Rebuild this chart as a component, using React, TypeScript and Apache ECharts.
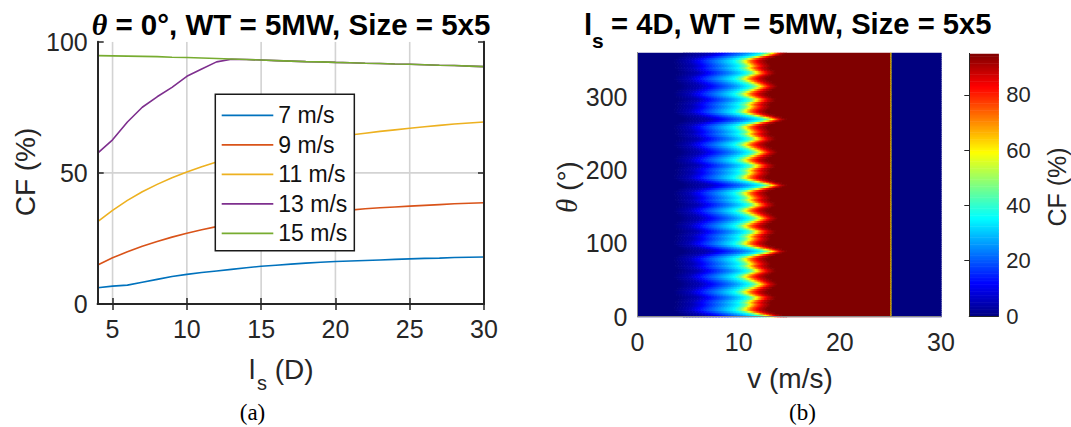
import React, { useEffect, useRef } from "react";
import * as echarts from "echarts";

// ---------- Panel (a): CF vs turbine spacing ----------
const spacingD = [4, 5, 6, 7, 8, 9, 10, 11, 12, 13, 14, 15, 16, 17, 18, 19, 20, 21, 22, 23, 24, 25, 26, 27, 28, 29, 30];
const cf7 = [6.2, 6.8, 7.2, 8.3, 9.4, 10.5, 11.3, 12.0, 12.6, 13.2, 13.8, 14.4, 14.8, 15.2, 15.6, 15.9, 16.2, 16.4, 16.6, 16.8, 17.0, 17.2, 17.4, 17.5, 17.7, 17.8, 17.9];
const cf9 = [14.9, 17.6, 19.9, 22.0, 23.8, 25.5, 27.0, 28.3, 29.5, 30.6, 31.5, 32.3, 33.0, 33.7, 34.3, 34.8, 35.3, 35.8, 36.3, 36.7, 37.0, 37.3, 37.6, 37.9, 38.2, 38.4, 38.6];
const cf11 = [31.4, 35.7, 39.5, 42.8, 45.6, 48.1, 50.3, 52.3, 54.1, 55.7, 57.2, 58.5, 59.7, 60.8, 61.8, 62.7, 63.6, 64.4, 65.1, 65.8, 66.4, 67.0, 67.6, 68.1, 68.6, 69.0, 69.4];
const cf13 = [57.5, 62.6, 69.4, 75.0, 79.0, 82.6, 86.8, 89.6, 92.3, 93.3, 93.2, 93.0, 92.8, 92.6, 92.4, 92.3, 92.1, 92.0, 91.8, 91.7, 91.5, 91.4, 91.2, 91.0, 90.9, 90.7, 90.5];
const cf15 = [94.7, 94.6, 94.5, 94.4, 94.3, 94.1, 94.0, 93.8, 93.6, 93.4, 93.2, 93.0, 92.8, 92.6, 92.4, 92.3, 92.1, 92.0, 91.8, 91.7, 91.5, 91.4, 91.2, 91.0, 90.9, 90.7, 90.5];
const seriesNames = ["7 m/s", "9 m/s", "11 m/s", "13 m/s", "15 m/s"];
const seriesValues = [cf7, cf9, cf11, cf13, cf15];
const lineColors = ["#0072BD", "#D95319", "#EDB120", "#7E2F8E", "#77AC30"];
const xTicksA = [5, 10, 15, 20, 25, 30];
const yTicksA = [0, 50, 100];
const xMinA = 4;
const xMaxA = 30;
const yMaxA = 100;

// ---------- Panel (b): CF over wind speed and direction ----------
// CF levels and the wind speed at which each level is reached,
// for the least-waked directions (trough) and the row-aligned directions (peak)
const cfLevels = [0, 5, 15, 25, 35, 45, 60, 75, 88, 95];
const troughSpeed = [3.5, 4.9, 6.2, 7.7, 9.2, 9.9, 10.4, 11.0, 11.8, 12.6];
const peakSpeed = [4.5, 7.0, 8.9, 10.8, 12.1, 12.7, 13.3, 13.7, 14.1, 14.7];
// wake weight per direction (theta = 0, 2.5, 5, ... 360 deg), 0 = trough profile, 1 = peak profile
const thetaStep = 2.5;
const wakeWeight = [
  1.0, 0.8, 0.5, 0.25, 0.1, 0.12, 0.22, 0.28, 0.22, 0.3, 0.45, 0.48, 0.32, 0.15, 0.1, 0.2, 0.35, 0.5,
  0.6, 0.5, 0.35, 0.2, 0.1, 0.15, 0.32, 0.48, 0.45, 0.3, 0.22, 0.28, 0.22, 0.12, 0.1, 0.25, 0.5, 0.8,
  1.0, 0.8, 0.5, 0.25, 0.1, 0.12, 0.22, 0.28, 0.22, 0.3, 0.45, 0.48, 0.32, 0.15, 0.1, 0.2, 0.35, 0.5,
  0.6, 0.5, 0.35, 0.2, 0.1, 0.15, 0.32, 0.48, 0.45, 0.3, 0.22, 0.28, 0.22, 0.12, 0.1, 0.25, 0.5, 0.8,
  1.0, 0.8, 0.5, 0.25, 0.1, 0.12, 0.22, 0.28, 0.22, 0.3, 0.45, 0.48, 0.32, 0.15, 0.1, 0.2, 0.35, 0.5,
  0.6, 0.5, 0.35, 0.2, 0.1, 0.15, 0.32, 0.48, 0.45, 0.3, 0.22, 0.28, 0.22, 0.12, 0.1, 0.25, 0.5, 0.8,
  1.0, 0.8, 0.5, 0.25, 0.1, 0.12, 0.22, 0.28, 0.22, 0.3, 0.45, 0.48, 0.32, 0.15, 0.1, 0.2, 0.35, 0.5,
  0.6, 0.5, 0.35, 0.2, 0.1, 0.15, 0.32, 0.48, 0.45, 0.3, 0.22, 0.28, 0.22, 0.12, 0.1, 0.25, 0.5, 0.8,
  1.0,
];
const cutOutSpeed = 25;
const cutOutEdgeCF = 60;
const vMax = 30;
const cfMax = 95;
const xTicksB = [0, 10, 20, 30];
const yTicksB = [0, 100, 200, 300];
const cbTicks = [0, 20, 40, 60, 80];
const jet = ["#000080", "#0000FF", "#0080FF", "#00FFFF", "#80FF80", "#FFFF00", "#FF8000", "#FF0000", "#800000"];

const SANS = '"Liberation Sans", Arial, Helvetica, sans-serif';
const SERIF = '"Liberation Serif", "Times New Roman", serif';
const AX = "#262626";

function buildField() {
  const cells: number[][] = [];
  const dv = 0.15;
  wakeWeight.forEach((w, j) => {
    const th = j * thetaStep;
    const t0 = Math.max(0, th - thetaStep / 2);
    const t1 = Math.min(360, th + thetaStep / 2);
    const vs = cfLevels.map((_, k) => troughSpeed[k] + w * (peakSpeed[k] - troughSpeed[k]));
    const vEnd = vs[vs.length - 1];
    cells.push([0, vs[0], t0, t1, 0]);
    for (let a = vs[0]; a < vEnd - 1e-6; a += dv) {
      const b = Math.min(a + dv, vEnd);
      const mid = (a + b) / 2;
      let k = 0;
      while (k < vs.length - 2 && mid > vs[k + 1]) k++;
      const f = (mid - vs[k]) / (vs[k + 1] - vs[k]);
      cells.push([a, b, t0, t1, cfLevels[k] + f * (cfLevels[k + 1] - cfLevels[k])]);
    }
    cells.push([vEnd, cutOutSpeed, t0, t1, cfMax]);
    cells.push([cutOutSpeed, cutOutSpeed + 0.1, t0, t1, cutOutEdgeCF]);
    cells.push([cutOutSpeed + 0.1, vMax, t0, t1, 0]);
  });
  return cells;
}

function buildColorbar() {
  const cells: number[][] = [];
  for (let c = 0; c < cfMax; c += 0.5) cells.push([0, 1, c, c + 0.5, c + 0.25]);
  return cells;
}

// grid lines of panel (a): [x0, x1, y0, y1] in data units, taken from the tick lists
function buildGridLines() {
  const lines: number[][] = [];
  xTicksA.filter((t) => t > xMinA && t < xMaxA).forEach((t) => lines.push([t, t, 0, yMaxA]));
  yTicksA.filter((t) => t > 0 && t < yMaxA).forEach((t) => lines.push([xMinA, xMaxA, t, t]));
  return lines;
}

const rectItem = (params: any, api: any) => {
  const p0 = api.coord([api.value(0), api.value(3)]);
  const p1 = api.coord([api.value(1), api.value(2)]);
  return {
    type: "rect",
    shape: { x: p0[0], y: p0[1], width: p1[0] - p0[0] + 0.6, height: p1[1] - p0[1] + 0.6 },
    style: { fill: api.visual("color") },
  };
};

const gridLineItem = (params: any, api: any) => {
  const p0 = api.coord([api.value(0), api.value(2)]);
  const p1 = api.coord([api.value(1), api.value(3)]);
  return {
    type: "line",
    shape: { x1: p0[0], y1: p0[1], x2: p1[0], y2: p1[1] },
    style: { stroke: "#d3d3d3", lineWidth: 1.6 },
  };
};

export default function App() {
  const ref = useRef<HTMLDivElement>(null);
  useEffect(() => {
    if (!ref.current) return;
    const chart = echarts.init(ref.current, undefined, { renderer: "svg" });
    const tickLabel = { fontFamily: SANS, fontSize: 25, color: AX };
    const boxLine = { show: true, lineStyle: { color: AX, width: 2 } };
    const tickStyle = { color: AX, width: 1.5 };
    const hmLine = { show: true, lineStyle: { color: "#8a8a8a", width: 1 } };
    const option: any = {
      animation: false,
      backgroundColor: "#ffffff",
      grid: [
        { left: 97.7, top: 41.7, width: 386.3, height: 262.3 },
        { left: 637.5, top: 52.7, width: 303.5, height: 264 },
        { left: 969.3, top: 53.5, width: 29, height: 262.5 },
      ],
      xAxis: [
        {
          gridIndex: 0, type: "value", min: xMinA, max: xMaxA, position: "bottom", z: 5,
          axisLine: boxLine,
          axisTick: { show: true, inside: true, length: 6, customValues: xTicksA, lineStyle: tickStyle },
          axisLabel: { ...tickLabel, margin: 12, customValues: xTicksA },
          splitLine: { show: false },
        },
        {
          gridIndex: 0, type: "value", min: xMinA, max: xMaxA, position: "top", z: 5,
          axisLine: boxLine,
          axisTick: { show: true, inside: true, length: 6, customValues: xTicksA, lineStyle: tickStyle },
          axisLabel: { show: false }, splitLine: { show: false },
        },
        {
          gridIndex: 1, type: "value", min: 0, max: vMax, position: "bottom", z: 10,
          axisLine: hmLine, axisTick: { show: false },
          axisLabel: { ...tickLabel, margin: 13, customValues: xTicksB },
          splitLine: { show: false },
        },
        {
          gridIndex: 1, type: "value", min: 0, max: vMax, position: "top", z: 10,
          axisLine: hmLine, axisTick: { show: false }, axisLabel: { show: false }, splitLine: { show: false },
        },
        {
          gridIndex: 2, type: "value", min: 0, max: 1, position: "bottom", z: 10,
          axisLine: { show: true, lineStyle: { color: AX, width: 1 } },
          axisTick: { show: false }, axisLabel: { show: false }, splitLine: { show: false },
        },
        {
          gridIndex: 2, type: "value", min: 0, max: 1, position: "top", z: 10,
          axisLine: { show: true, lineStyle: { color: AX, width: 1 } },
          axisTick: { show: false }, axisLabel: { show: false }, splitLine: { show: false },
        },
      ],
      yAxis: [
        {
          gridIndex: 0, type: "value", min: 0, max: yMaxA, interval: 50, position: "left", z: 5,
          axisLine: boxLine,
          axisTick: { show: true, inside: true, length: 6, customValues: yTicksA, lineStyle: tickStyle },
          axisLabel: { ...tickLabel, margin: 10, customValues: yTicksA },
          splitLine: { show: false },
        },
        {
          gridIndex: 0, type: "value", min: 0, max: yMaxA, interval: 50, position: "right", z: 5,
          axisLine: boxLine,
          axisTick: { show: true, inside: true, length: 6, customValues: yTicksA, lineStyle: tickStyle },
          axisLabel: { show: false }, splitLine: { show: false },
        },
        {
          gridIndex: 1, type: "value", min: 0, max: 360, position: "left", z: 10,
          axisLine: hmLine, axisTick: { show: false },
          axisLabel: { ...tickLabel, margin: 10, customValues: yTicksB },
          splitLine: { show: false },
        },
        {
          gridIndex: 1, type: "value", min: 0, max: 360, position: "right", z: 10,
          axisLine: hmLine, axisTick: { show: false }, axisLabel: { show: false }, splitLine: { show: false },
        },
        {
          gridIndex: 2, type: "value", min: 0, max: cfMax, position: "right", z: 10,
          axisLine: { show: true, lineStyle: { color: AX, width: 1 } },
          axisTick: { show: true, inside: true, length: 5, customValues: [20, 40, 60, 80], lineStyle: { color: AX, width: 1 } },
          axisLabel: { fontFamily: SANS, fontSize: 22, color: AX, margin: 8, customValues: cbTicks },
          splitLine: { show: false },
        },
        {
          gridIndex: 2, type: "value", min: 0, max: cfMax, position: "left", z: 10,
          axisLine: { show: true, lineStyle: { color: AX, width: 1 } },
          axisTick: { show: false }, axisLabel: { show: false }, splitLine: { show: false },
        },
      ],
      visualMap: {
        type: "continuous", show: false, min: 0, max: cfMax, dimension: 4,
        seriesIndex: [5, 6], inRange: { color: jet },
      },
      legend: {
        orient: "vertical", left: 215.3, top: 94.3,
        data: seriesNames.map((name) => ({ name, icon: "rect" })),
        itemWidth: 51.6, itemHeight: 1.8, itemGap: 6.5,
        padding: [9.5, 7, 6, 6.4],
        backgroundColor: "#ffffff", borderColor: "#1a1a1a", borderWidth: 1.5, borderRadius: 0,
        textStyle: { fontFamily: SANS, fontSize: 23, lineHeight: 23, color: "#111" },
      },
      series: [
        ...seriesNames.map((name, i) => ({
          name, type: "line", xAxisIndex: 0, yAxisIndex: 0,
          data: spacingD.map((x, k) => [x, seriesValues[i][k]]),
          showSymbol: false, symbol: "none",
          lineStyle: { color: lineColors[i], width: 1.6 },
          itemStyle: { color: lineColors[i] },
          clip: true, z: 3,
        })),
        {
          type: "custom", xAxisIndex: 2, yAxisIndex: 2, data: buildField(),
          encode: { x: [0, 1], y: [2, 3] }, renderItem: rectItem, clip: true, silent: true,
        },
        {
          type: "custom", xAxisIndex: 4, yAxisIndex: 4, data: buildColorbar(),
          encode: { x: [0, 1], y: [2, 3] }, renderItem: rectItem, clip: true, silent: true,
        },
        {
          type: "custom", xAxisIndex: 0, yAxisIndex: 0, data: buildGridLines(),
          encode: { x: [0, 1], y: [2, 3] }, renderItem: gridLineItem, clip: true, silent: true, z: 1,
        },
      ],
      graphic: [
        {
          type: "text", x: 291, y: 24,
          style: {
            text: "{th|θ}{b| = 0°, WT = 5MW, Size = 5x5}",
            align: "center", verticalAlign: "middle",
            rich: {
              th: { fontFamily: SERIF, fontStyle: "italic", fontWeight: "bold", fontSize: 30, fill: "#000" },
              b: { fontFamily: SANS, fontWeight: "bold", fontSize: 29.5, fill: "#000" },
            },
          },
        },
        { type: "text", x: 584, y: 24, style: { text: "l", fontFamily: SANS, fontWeight: "bold", fontSize: 29.5, fill: "#000", align: "left", verticalAlign: "middle" } },
        { type: "text", x: 592, y: 40, style: { text: "s", fontFamily: SANS, fontWeight: "bold", fontSize: 21, fill: "#000", align: "left", verticalAlign: "middle" } },
        { type: "text", x: 603, y: 24, style: { text: " = 4D, WT = 5MW, Size = 5x5", fontFamily: SANS, fontWeight: "bold", fontSize: 29.2, fill: "#000", align: "left", verticalAlign: "middle" } },
        { type: "text", x: 25, y: 172, rotation: Math.PI / 2, style: { text: "CF (%)", fontFamily: SANS, fontSize: 28, fill: AX, align: "center", verticalAlign: "middle" } },
        { type: "text", x: 249, y: 369, style: { text: "l", fontFamily: SANS, fontSize: 28, fill: AX, align: "left", verticalAlign: "middle" } },
        { type: "text", x: 257, y: 383, style: { text: "s", fontFamily: SANS, fontSize: 20, fill: AX, align: "left", verticalAlign: "middle" } },
        { type: "text", x: 267, y: 369, style: { text: " (D)", fontFamily: SANS, fontSize: 28, fill: AX, align: "left", verticalAlign: "middle" } },
        { type: "text", x: 790, y: 378, style: { text: "v (m/s)", fontFamily: SANS, fontSize: 28, fill: AX, align: "center", verticalAlign: "middle" } },
        {
          type: "text", x: 567, y: 187, rotation: Math.PI / 2,
          style: {
            text: "{th|θ}{n| (°)}", align: "center", verticalAlign: "middle",
            rich: {
              th: { fontFamily: SERIF, fontStyle: "italic", fontSize: 29, fill: AX },
              n: { fontFamily: SANS, fontSize: 28, fill: AX },
            },
          },
        },
        { type: "text", x: 1057, y: 187, rotation: Math.PI / 2, style: { text: "CF (%)", fontFamily: SANS, fontSize: 25, fill: AX, align: "center", verticalAlign: "middle" } },
        { type: "text", x: 252.5, y: 412, style: { text: "(a)", fontFamily: SERIF, fontSize: 23, fill: "#000", align: "center", verticalAlign: "middle" } },
        { type: "text", x: 802.5, y: 412, style: { text: "(b)", fontFamily: SERIF, fontSize: 23, fill: "#000", align: "center", verticalAlign: "middle" } },
      ],
    };
    chart.setOption(option);
    return () => chart.dispose();
  }, []);
  return (
    <div
      ref={ref}
      style={{ position: "fixed", left: 0, top: 0, width: 1071, height: 427, background: "#fff" }}
    />
  );
}
